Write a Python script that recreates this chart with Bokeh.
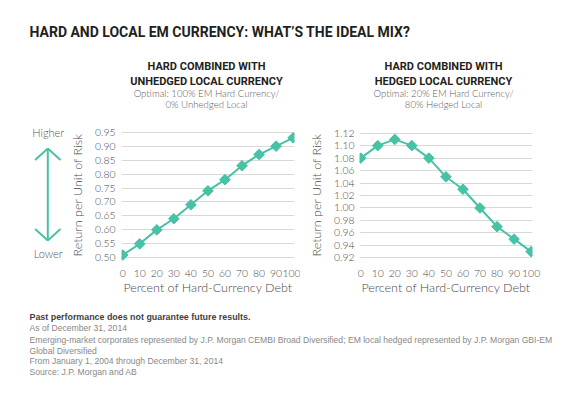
from bokeh.plotting import figure
from bokeh.layouts import column, row
from bokeh.models import Range1d, FixedTicker, ColumnDataSource, NumeralTickFormatter
from bokeh.core.properties import value
from bokeh.embed import file_html
from bokeh.resources import INLINE
import math

# ---------------- data ----------------
hard_pct = [0, 10, 20, 30, 40, 50, 60, 70, 80, 90, 100]
unhedged_ratio = [0.51, 0.55, 0.60, 0.64, 0.69, 0.74, 0.78, 0.83, 0.87, 0.90, 0.93]
hedged_ratio = [1.08, 1.10, 1.11, 1.10, 1.08, 1.05, 1.03, 1.00, 0.97, 0.95, 0.93]
left_yticks = [0.50, 0.55, 0.60, 0.65, 0.70, 0.75, 0.80, 0.85, 0.90, 0.95]
right_yticks = [0.92, 0.94, 0.96, 0.98, 1.00, 1.02, 1.04, 1.06, 1.08, 1.10, 1.12]
x_ticks = [0, 10, 20, 30, 40, 50, 60, 70, 80, 90, 100]

title_text = "HARD AND LOCAL EM CURRENCY: WHAT\u2019S THE IDEAL MIX?"
left_head = ["HARD COMBINED WITH", "UNHEDGED LOCAL CURRENCY"]
left_sub = ["Optimal: 100% EM Hard Currency/", "0% Unhedged Local"]
right_head = ["HARD COMBINED WITH", "HEDGED LOCAL CURRENCY"]
right_sub = ["Optimal: 20% EM Hard Currency/", "80% Hedged Local"]
y_title = "Return per Unit of Risk"
x_title = "Percent of Hard-Currency Debt"
footer_bold = "Past performance does not guarantee future results."
footer_lines = [
    "As of December 31, 2014",
    "Emerging-market corporates represented by J.P. Morgan CEMBI Broad Diversified; EM local hedged represented by J.P. Morgan GBI-EM",
    "Global Diversified",
    "From January 1, 2004 through December 31, 2014",
    "Source: J.P. Morgan and AB",
]

TEAL = "#48c2a4"
DARK = "#231f20"
GRAY = "#5e5e5e"
TICK_FONT = "Lato Light"
HEAD_FONT = "Roboto"


def blank(width, height, x0, x1, y0, y1, top=0, bottom=0):
    f = figure(width=width, height=height, output_backend="svg", toolbar_location=None,
               x_range=Range1d(x0, x1), y_range=Range1d(y1, y0),
               x_axis_location=None, y_axis_location=None,
               min_border=0, min_border_left=0, min_border_right=0,
               min_border_top=top, min_border_bottom=bottom)
    f.grid.visible = False
    f.outline_line_color = None
    f.background_fill_color = None
    f.border_fill_color = None
    return f


# ---------------- header (page y 0..118) ----------------
hdr = blank(580, 118, 0, 580, 0, 118)
hdr.text(x=[29], y=[31], text=[title_text], text_font=value(HEAD_FONT), text_font_style="bold",
         text_font_size="14px", text_color=DARK, text_baseline="middle", text_align="left")
for cx, heads, subs in [(206, left_head, left_sub), (443, right_head, right_sub)]:
    hdr.text(x=[cx, cx], y=[66, 80.5], text=heads, text_font=value(HEAD_FONT), text_font_style="bold",
             text_font_size="11px", text_color=DARK, text_baseline="middle", text_align="center")
    hdr.text(x=[cx, cx], y=[93, 103.5], text=subs, text_font=value(TICK_FONT),
             text_font_size="9.6px", text_color=GRAY, text_baseline="middle", text_align="center")

# ---------------- arrow column (frame page y 128..261) ----------------
arr = blank(66, 180, 0, 66, 128, 261, top=10, bottom=37)
arr.segment(x0=[47.3, 47.3, 47.3, 47.3, 47.3], y0=[148, 148, 148, 240, 240],
            x1=[47.3, 34.6, 60.0, 34.6, 60.0], y1=[240, 159.5, 159.5, 228.5, 228.5],
            line_color=TEAL, line_width=2)
arr.text(x=[47.7, 47.7], y=[132, 253], text=["Higher", "Lower"], text_font=value(TICK_FONT),
         text_font_size="11px", text_color="#555555", text_baseline="middle", text_align="center")


# ---------------- charts ----------------
def chart(width, border_left, border_right, yvals, yticks, yr, fmt_std, title_std):
    p = figure(width=width, height=180, output_backend="svg", toolbar_location=None,
               x_range=Range1d(-0.7, 100.8), y_range=Range1d(*yr),
               min_border_left=border_left, min_border_right=border_right,
               min_border_top=10, min_border_bottom=37)
    p.outline_line_color = None
    p.xgrid.visible = False
    p.ygrid.grid_line_color = "#d9d9d9"
    p.ygrid.grid_line_width = 1
    p.background_fill_color = None
    p.border_fill_color = None
    p.xaxis.ticker = FixedTicker(ticks=x_ticks)
    p.yaxis.ticker = FixedTicker(ticks=yticks)
    p.yaxis.formatter = NumeralTickFormatter(format="0.00")
    for ax in (p.xaxis[0], p.yaxis[0]):
        ax.axis_line_color = None
        ax.major_tick_line_color = None
        ax.minor_tick_line_color = None
        ax.major_tick_out = 0
        ax.major_tick_in = 0
        ax.major_label_text_font = TICK_FONT
        ax.major_label_text_font_size = "10.4px"
        ax.major_label_text_color = "#4a4a4a"
        ax.axis_label_text_font = TICK_FONT
        ax.axis_label_text_font_size = "12.5px"
        ax.axis_label_text_font_style = "normal"
        ax.axis_label_text_color = "#4a4a4a"
    p.yaxis.axis_label = y_title
    p.xaxis.axis_label = x_title
    p.yaxis.major_label_standoff = fmt_std
    p.yaxis.axis_label_standoff = title_std
    p.xaxis.major_label_standoff = 8
    p.xaxis.axis_label_standoff = 0
    src = ColumnDataSource(dict(x=hard_pct, y=yvals))
    p.line("x", "y", source=src, line_color=TEAL, line_width=2)
    p.scatter("x", "y", source=src, marker="square", angle=math.pi / 4, size=7.5,
              fill_color=TEAL, line_color=TEAL)
    return p


left = chart(234, 54, 6, unhedged_ratio, left_yticks, (0.4867, 0.9633), 6, 7)
right = chart(280, 59, 48, hedged_ratio, right_yticks, (0.9141, 1.1275), 5, 7)

# ---------------- footer (page y 298..399) ----------------
ftr = blank(580, 101, 0, 580, 298, 399)
ftr.text(x=[29], y=[316.7], text=[footer_bold], text_font=value("Liberation Sans"), text_font_style="bold",
         text_font_size="8.9px", text_color="#3f3f3f", text_baseline="middle", text_align="left")
ftr.text(x=[29] * len(footer_lines), y=[327.7, 339, 350, 360.8, 371.5], text=footer_lines,
         text_font=value("Liberation Sans"), text_font_size="8.6px", text_color="#888888",
         text_baseline="middle", text_align="left")

layout = column(hdr, row(arr, left, right), ftr)
open("out.html", "w").write(file_html(layout, INLINE))
